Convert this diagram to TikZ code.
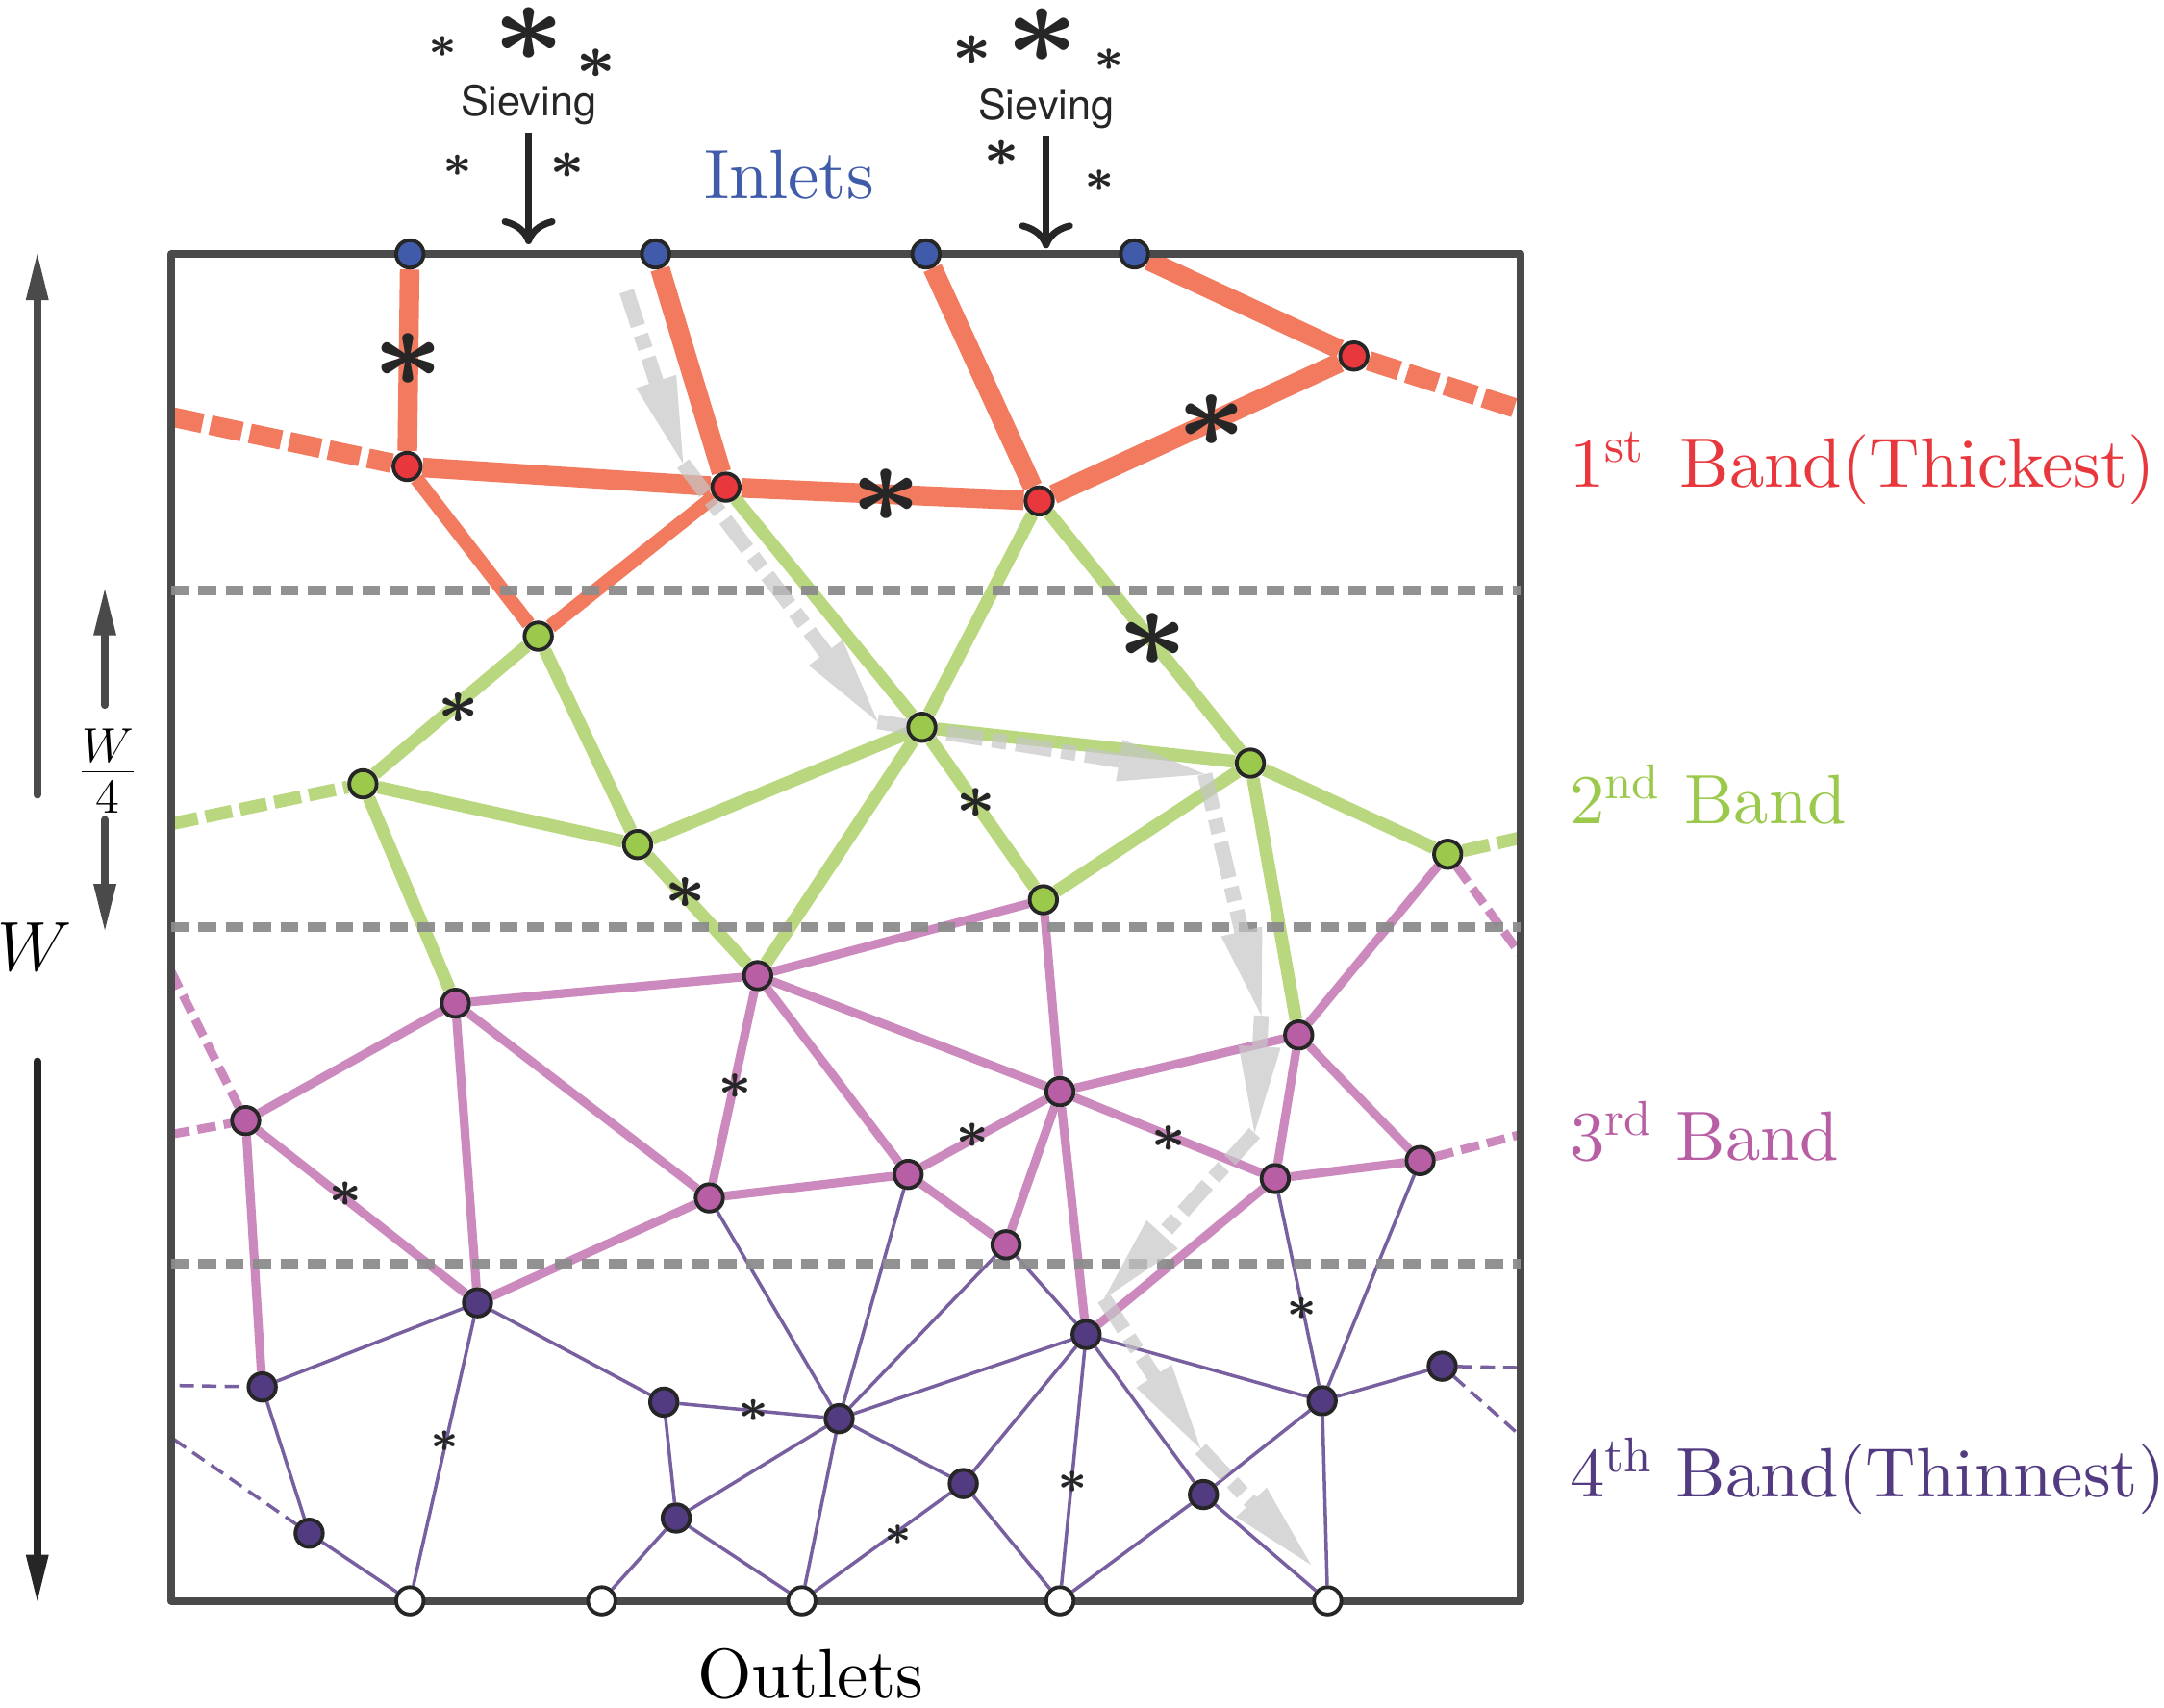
\documentclass[tikz,border=0pt]{standalone}
\usepackage{fontspec}
\setmainfont{lmroman10-regular.otf}
\newfontfamily\sievefont{TeX Gyre Heros}
\usepackage{tikz}
\usetikzlibrary{arrows.meta}

\definecolor{inblue}{HTML}{3F5BA9}
\definecolor{bandred}{HTML}{E8383D}
\definecolor{edgered}{HTML}{F17A5F}
\definecolor{bandgreen}{HTML}{9BC94B}
\definecolor{edgegreen}{HTML}{B8D77E}
\definecolor{bandpink}{HTML}{B85EA4}
\definecolor{edgepink}{HTML}{CC89BD}
\definecolor{bandpurple}{HTML}{533B82}
\definecolor{edgepurple}{HTML}{7860A0}
\definecolor{boxgray}{HTML}{4A4A4A}
\definecolor{sepgray}{HTML}{8C8C8C}
\definecolor{sievegray}{HTML}{C6C6C6}

% bold asterisk at a given size
\newcommand\spark[1]{{\font\sparkfont=cmbsy7 at #1pt\sparkfont\char3}}

\pgfdeclarelayer{back}
\pgfdeclarelayer{mid}
\pgfsetlayers{back,mid,main}

\begin{document}
\begin{tikzpicture}[
    x=0.1435mm, y=-0.1435mm,
    every node/.style={inner sep=0pt},
    vtx/.style={circle, draw=black!85, line width=1.1pt, minimum size=2.85mm},
    inlet/.style={vtx, fill=inblue},
    outlet/.style={vtx, fill=white},
    rnode/.style={vtx, fill=bandred},
    gnode/.style={vtx, fill=bandgreen},
    pnode/.style={vtx, fill=bandpink},
    qnode/.style={vtx, fill=bandpurple},
    rlink/.style={draw=edgered, line width=5.8pt},
    rlinkthin/.style={draw=edgered, line width=4.2pt},
    glink/.style={draw=edgegreen, line width=3.8pt},
    plink/.style={draw=edgepink, line width=2.6pt},
    qlink/.style={draw=edgepurple, line width=1pt},
    dangling/.style={dash pattern=on #1 off 2.4pt},
    bandsep/.style={draw=sepgray, opacity=0.95, line width=2.9pt, dash pattern=on 5.2pt off 2.9pt},
    boxline/.style={draw=boxgray, line width=2.3pt, line join=round},
    sieve/.style={draw=sievegray, opacity=0.7, line width=4.4pt,
        dash pattern=on 10.8pt off 2.8pt on 4.3pt off 2.8pt,
        -{Triangle[length=9mm, width=4.4mm, line width=0pt]}},
    sievearrow/.style={draw=black!85, line width=2pt,
        -{Computer Modern Rightarrow[length=2.7mm, width=5.6mm]}},
    dimarrow/.style={draw=#1, line width=2.2pt, line cap=round,
        -{Triangle[length=4.8mm, width=2.4mm, line width=0pt]}},
    lbl/.style={font=\fontsize{20.7}{25}\selectfont},
    band/.style={lbl, anchor=base west}
]
\useasboundingbox (0,0) rectangle (1568,1237);

% nodes, band by band
\foreach \n/\x in {in1/297, in2/475, in3/671, in4/822}
    \node[inlet] (\n) at (\x,184) {};
\foreach \n/\x in {out1/297, out2/436, out3/581, out4/768, out5/962}
    \node[outlet] (\n) at (\x,1160) {};
\foreach \n/\x/\y in {r1/295/338, r2/526/353, r3/753/363, r4/981/258}
    \node[rnode] (\n) at (\x,\y) {};
\foreach \n/\x/\y in {g1/390/461, g2/263/568, g3/462/612, g4/668/527, g5/906/553, g6/756/652, g7/1049/619}
    \node[gnode] (\n) at (\x,\y) {};
\foreach \n/\x/\y in {p1/330/727, p2/549/707, p3/178/812, p4/514/868, p5/658/851,
                      p6/768/791, p7/729/902, p8/941/750, p9/924/854, p10/1029/841}
    \node[pnode] (\n) at (\x,\y) {};
\foreach \n/\x/\y in {q1/346/944, q2/190/1005, q3/224/1111, q4/481/1016, q5/490/1100, q6/608/1028,
                      q7/787/967, q8/958/1015, q9/1045/990, q10/698/1075, q11/872/1083}
    \node[qnode] (\n) at (\x,\y) {};

% open ends on the walls
\foreach \n/\x/\y in {rl/124/302, rr/1102/297, gl/124/597, gr/1102/607,
                      pl1/124/704, pl2/124/822, pr1/1102/692, pr2/1102/822,
                      ql1/130/1004, ql2/126/1043, qr1/1100/991, qr2/1100/1039}
    \coordinate (\n) at (\x,\y);

\begin{pgfonlayer}{back}
% 1st band
\foreach \a/\b in {in1/r1, in2/r2, in3/r3, in4/r4, r1/r2, r2/r3, r3/r4}
    \draw[rlink] (\a) -- (\b);
\foreach \a/\b in {r1/g1, r2/g1}
    \draw[rlinkthin] (\a) -- (\b);
\draw[rlink, dangling=9.5pt] (rl) -- (r1);
\draw[rlink, dangling=9.5pt] (r4) -- (rr);
% 2nd band
\foreach \a/\b in {r2/g4, r3/g4, r3/g5, g1/g2, g1/g3, g2/g3, g3/g4, g4/g5, g4/g6, g6/g5,
                   g5/g7, g3/p2, g4/p2, g2/p1, g5/p8}
    \draw[glink] (\a) -- (\b);
\draw[glink, dangling=8pt] (gl) -- (g2);
\draw[glink, dangling=8pt] (g7) -- (gr);
% 3rd band
\foreach \a/\b in {g6/p2, g6/p6, g7/p8, p1/p2, p1/p3, p1/p4, p1/q1, p3/q1, p3/q2, q1/p4,
                   p2/p4, p2/p5, p2/p6, p4/p5, p5/p6, p5/p7, p6/p7, p6/p8, p6/p9, p6/q7,
                   p8/p9, p8/p10, p9/p10, p9/q7}
    \draw[plink] (\a) -- (\b);
\foreach \a/\b in {pl1/p3, pl2/p3, g7/pr1, p10/pr2}
    \draw[plink, dangling=5.5pt] (\a) -- (\b);
% 4th band
\foreach \a/\b in {q1/q2, q1/q4, q1/out1, q2/q3, q3/out1, q4/q5, q4/q6, q5/q6, q5/out2,
                   q5/out3, q6/out3, p4/q6, p5/q6, p7/q6, p7/q7, q7/q6, q7/q10, q7/out4,
                   q7/q11, q7/q8, q10/q6, q10/out3, q10/out4, q11/out4, q11/out5, q11/q8,
                   q8/out5, q8/p9, q8/p10, q8/q9}
    \draw[qlink] (\a) -- (\b);
\foreach \a/\b in {ql1/q2, ql2/q3, q9/qr1, q9/qr2}
    \draw[qlink, dangling=4.3pt] (\a) -- (\b);
\end{pgfonlayer}

\begin{pgfonlayer}{mid}
\draw[boxline] (124,184) rectangle (1102,1160);
\foreach \y in {428, 672, 916}
    \draw[bandsep] (124,\y) -- (1102,\y);
% path of a grain through the bands
\foreach \n/\x/\y in {s0/454/211, s1/495/336, s2/636/523, s3/873/561, s4/914/736,
                      s5/909/821, s6/800/941, s7/870/1050, s8/950/1134}
    \coordinate (\n) at (\x,\y);
\foreach \a/\b in {s0/s1, s1/s2, s2/s3, s3/s4, s4/s5, s5/s6, s6/s7, s7/s8}
    \draw[sieve] (\a) -- (\b);
\end{pgfonlayer}

% asterisks
\foreach \x/\y/\s [count=\i] in {383/25/33.5, 321/34/13, 432/46/18.5, 332/120/13.4, 411/120/16,
        755/26/34, 704/36.5/18.4, 804/43/13.7, 726/111.5/16.5, 797/131/13.7,
        295.5/260.6/33, 642.5/359/33, 878/305/32.5, 835.5/463.5/33,
        332.5/513/19.3, 707.5/582/18.5, 496.5/647/19.3,
        533/787/15.6, 705/823/15.4, 847/825/16.2, 250/865/15.4,
        322/1044.6/13, 546/1022/14, 651/1112/12.5, 777/1074/13.7, 943.5/948.5/14}
    \node[text=black!85] (ast\i) at (\x,\y) {\spark{\s}};

% sieving arrows
\node[font=\sievefont\fontsize{12.3}{14}\selectfont, text=black!85, anchor=base] (sv1) at (383,84) {Sieving};
\node[font=\sievefont\fontsize{12.3}{14}\selectfont, text=black!85, anchor=base] (sv2) at (758,86.5) {Sieving};
\coordinate (t1) at (383,177);
\coordinate (t2) at (758,180);
\draw[sievearrow] ([yshift=-2pt]sv1.south) -- (t1);
\draw[sievearrow] ([yshift=-2pt]sv2.south) -- (t2);

% labels
\node[lbl, text=inblue, anchor=base west] (inlets) at (510,144) {Inlets};
\node[lbl, anchor=base west] (outlets) at (505,1230) {Outlets};
\node[band, text=bandred] (b1) at (1137,353) {1\textsuperscript{st}\, Band(Thickest)};
\node[band, text=bandgreen] (b2) at (1137,597) {2\textsuperscript{nd} Band};
\node[band, text=bandpink] (b3) at (1137,841) {3\textsuperscript{rd} Band};
\node[band, text=bandpurple] (b4) at (1137,1085) {4\textsuperscript{th} Band(Thinnest)};

% width of the box and of one band
\node[font=\fontsize{22}{26}\selectfont] (wlab) at (25,686) {$W$};
\node[lbl, anchor=base] (wquart) at (78,572) {$\frac{W}{4}$};
\foreach \n/\x/\y in {wup/27/576, wtop/27/184, wdn/27/769, wbot/27/1160,
                      qup/76/511, qtop/76/427, qdn/76/594, qbot/76/674}
    \coordinate (\n) at (\x,\y);
\draw[dimarrow=boxgray] (wup) -- (wtop);
\draw[dimarrow=black!85] (wdn) -- (wbot);
\draw[dimarrow=boxgray] (qup) -- (qtop);
\draw[dimarrow=boxgray] (qdn) -- (qbot);
\end{tikzpicture}
\end{document}
